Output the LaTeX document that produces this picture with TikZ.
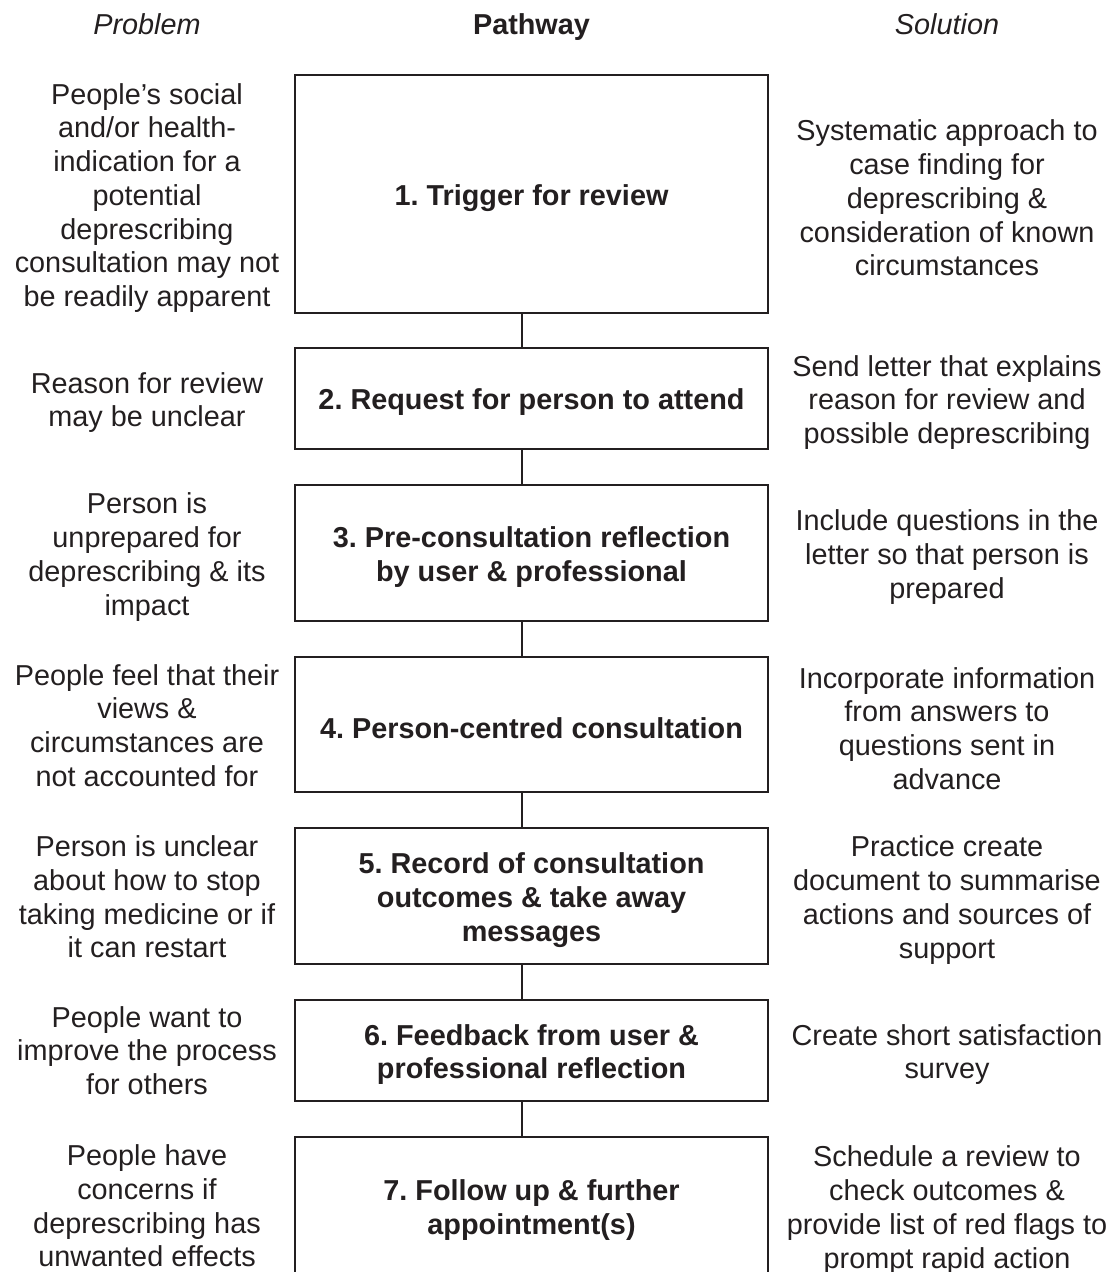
\documentclass[tikz,border=0pt]{standalone}
\usepackage{fontspec}
\setmainfont{Liberation Sans}
\usetikzlibrary{positioning}
\definecolor{ink}{HTML}{231F20}
\frenchspacing

\begin{document}
\begin{tikzpicture}[x=0.025cm, y=-0.025cm, color=ink,
  every node/.style={font=\fontsize{20.5}{24}\selectfont, text=ink},
  block/.style={draw, line width=1.4pt, minimum width=11.825cm, inner sep=0pt},
  steptext/.style={align=center, inner sep=0pt, yshift=-0.1cm, font=\fontsize{20.5}{24}\selectfont\bfseries},
  side/.style={align=center, inner sep=0pt},
  lower/.style={yshift=-0.1cm}]

  \useasboundingbox (0,0) rectangle (1113,1272);

  % Headings
  \node[anchor=base] (hp) at (147,34) {\itshape Problem};
  \node[anchor=base] (hw) at (531.5,34) {\bfseries Pathway};
  \node[anchor=base] (hs) at (947,34) {\itshape Solution};

  \coordinate (px) at (147,0);
  \coordinate (sx) at (947,0);

  % Pathway boxes
  \node[block, minimum height=5.95cm] (b1) at (531.5,194) {};
  \node[block, minimum height=2.525cm] (b2) at (531.5,398.5) {};
  \node[block, minimum height=3.4cm] (b3) at (531.5,553) {};
  \node[block, minimum height=3.375cm] (b4) at (531.5,724.5) {};
  \node[block, minimum height=3.4cm] (b5) at (531.5,896) {};
  \node[block, minimum height=2.525cm] (b6) at (531.5,1050.5) {};
  \node[block, minimum height=3.45cm] (b7) at (531.5,1206) {};

  % Pathway steps
  \node[steptext] (t1) at (b1) {1. Trigger for review};
  \node[steptext] (t2) at (b2) {2. Request for person to attend};
  \node[steptext] (t3) at (b3) {3. Pre-consultation reflection\\by user \& professional};
  \node[steptext] (t4) at (b4) {4. Person-centred consultation};
  \node[steptext] (t5) at (b5) {5. Record of consultation\\outcomes \& take away\\messages};
  \node[steptext] (t6) at (b6) {6. Feedback from user \&\\professional reflection};
  \node[steptext] (t7) at (b7) {7. Follow up \& further\\appointment(s)};

  % Problems
  \node[side, lower] (p1) at (b1 -| px) {People’s social\\and/or health-\\indication for a\\potential\\deprescribing\\consultation may not\\be readily apparent};
  \node[side, lower] (p2) at (b2 -| px) {Reason for review\\may be unclear};
  \node[side, lower] (p3) at (b3 -| px) {Person is\\unprepared for\\deprescribing \& its\\impact};
  \node[side, yshift=-0.025cm] (p4) at (b4 -| px) {People feel that their\\views \&\\circumstances are\\not accounted for};
  \node[side, yshift=-0.025cm] (p5) at (b5 -| px) {Person is unclear\\about how to stop\\taking medicine or if\\it can restart};
  \node[side] (p6) at (b6 -| px) {People want to\\improve the process\\for others};
  \node[side] (p7) at (b7 -| px) {People have\\concerns if\\deprescribing has\\unwanted effects};

  % Solutions
  \node[side, lower] (s1) at (b1 -| sx) {Systematic approach to\\case finding for\\deprescribing \&\\consideration of known\\circumstances};
  \node[side, lower] (s2) at (b2 -| sx) {Send letter that explains\\reason for review and\\possible deprescribing};
  \node[side, lower] (s3) at (b3 -| sx) {Include questions in the\\letter so that person is\\prepared};
  \node[side, lower] (s4) at (b4 -| sx) {Incorporate information\\from answers to\\questions sent in\\advance};
  \node[side, lower] (s5) at (b5 -| sx) {Practice create\\document to summarise\\actions and sources of\\support};
  \node[side, lower] (s6) at (b6 -| sx) {Create short satisfaction\\survey};
  \node[side, lower] (s7) at (b7 -| sx) {Schedule a review to\\check outcomes \&\\provide list of red flags to\\prompt rapid action};

  % Links between steps
  \foreach \a/\b in {b1/b2, b2/b3, b3/b4, b4/b5, b5/b6, b6/b7}
    \draw[line width=1.4pt] ([xshift=-0.2375cm]\a.south) -- ([xshift=-0.2375cm]\b.north);

\end{tikzpicture}
\end{document}
